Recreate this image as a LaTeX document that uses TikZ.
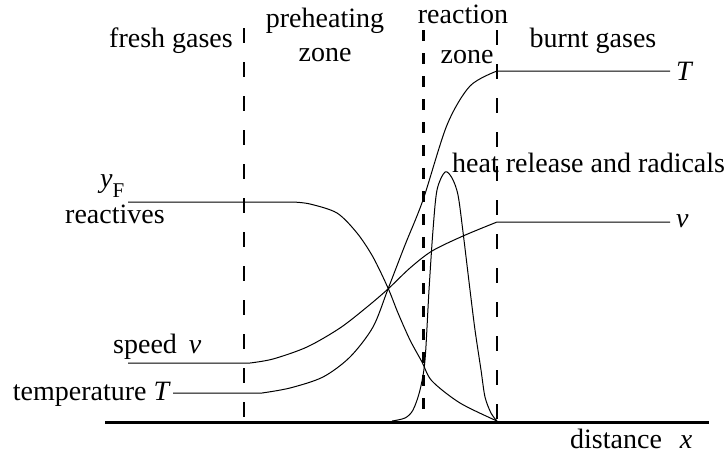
\documentclass[tikz,border=0pt]{standalone}
\usepackage{fontspec}
\setmainfont{Liberation Serif}
\usetikzlibrary{positioning}

\begin{document}
\begin{tikzpicture}[
    x=1pt, y=-1pt,
    every node/.style={inner sep=0pt, font=\fontsize{28}{31}\selectfont},
    zonelabel/.style={anchor=base},
    curvelabel/.style={anchor=base west},
    profile/.style={line width=1pt, line join=round},
    boundary/.style={line width=1.6pt, dash pattern=on 15pt off 19pt},
    flamefront/.style={line width=3pt, dash pattern=on 11pt off 12pt},
    axisline/.style={line width=3pt}
]
\useasboundingbox (0,0) rectangle (725,456);
% zone titles
\node[anchor=base east] (fresh) at (233,47) {fresh gases};
\node[zonelabel] (preheat) at (325,27) {preheating};
\node[zonelabel] (preheatzone) at (325,61) {zone};
\node[zonelabel] (reaction) at (463,23) {reaction};
\node[zonelabel] (reactzone) at (467,63) {zone};
\node[zonelabel] (burnt) at (593,47) {burnt gases};
% zone boundaries
\draw[boundary] (244,28) -- (244,422);
\draw[flamefront] (423,30) -- (423,422);
\draw[boundary] (497,30) -- (497,422);
% distance axis
\draw[axisline] (105,422) -- (709,422);
\node[curvelabel] (dist) at (570,448) {distance\hspace{18pt}\textit{x}};
% profile labels
\node[anchor=base east] (templabel) at (171,400) {temperature \textit{T}};
\node[curvelabel] (speedlabel) at (113,353) {speed\hspace{12pt}\textit{v}};
\node[curvelabel] (yflabel) at (100,187) {\textit{y}\raisebox{-10pt}{\fontsize{21}{21}\selectfont F}};
\node[curvelabel] (reactlabel) at (65,223) {reactives};
\node[curvelabel] (heatlabel) at (452,172) {heat release and radicals};
\node[curvelabel] (Tend) at (676,80) {\textit{T}};
\node[curvelabel] (vend) at (676,227) {\textit{v}};
% temperature
\draw[profile] (173,393) -- plot[smooth] coordinates {(262,393) (290,388) (323,377) (350,357) (373,327) (388,289) (405,245) (423,200) (447,125) (470,86) (497,71)} -- (670,71);
% speed
\draw[profile] (128,363) -- plot[smooth] coordinates {(250,363) (273,359) (307,347) (340,328) (367,307) (388,289) (410,268) (432,251) (463,236) (497,222)} -- (670,222);
% fuel mass fraction
\draw[profile] (128,202) -- plot[smooth] coordinates {(293,202) (310,204) (337,213) (357,233) (373,257) (388,288) (398,313) (410,340) (422,362) (432,381) (460,403) (497,421)};
% heat release
\draw[profile] plot[smooth] coordinates {(392,421) (405,418) (413,410) (420,390) (425,360) (429,290) (433,230) (437,190) (445,172) (452,178) (458,195) (463,232) (470,290) (475,330) (481,370) (485,397) (491,413) (497,421)};
\end{tikzpicture}
\end{document}
